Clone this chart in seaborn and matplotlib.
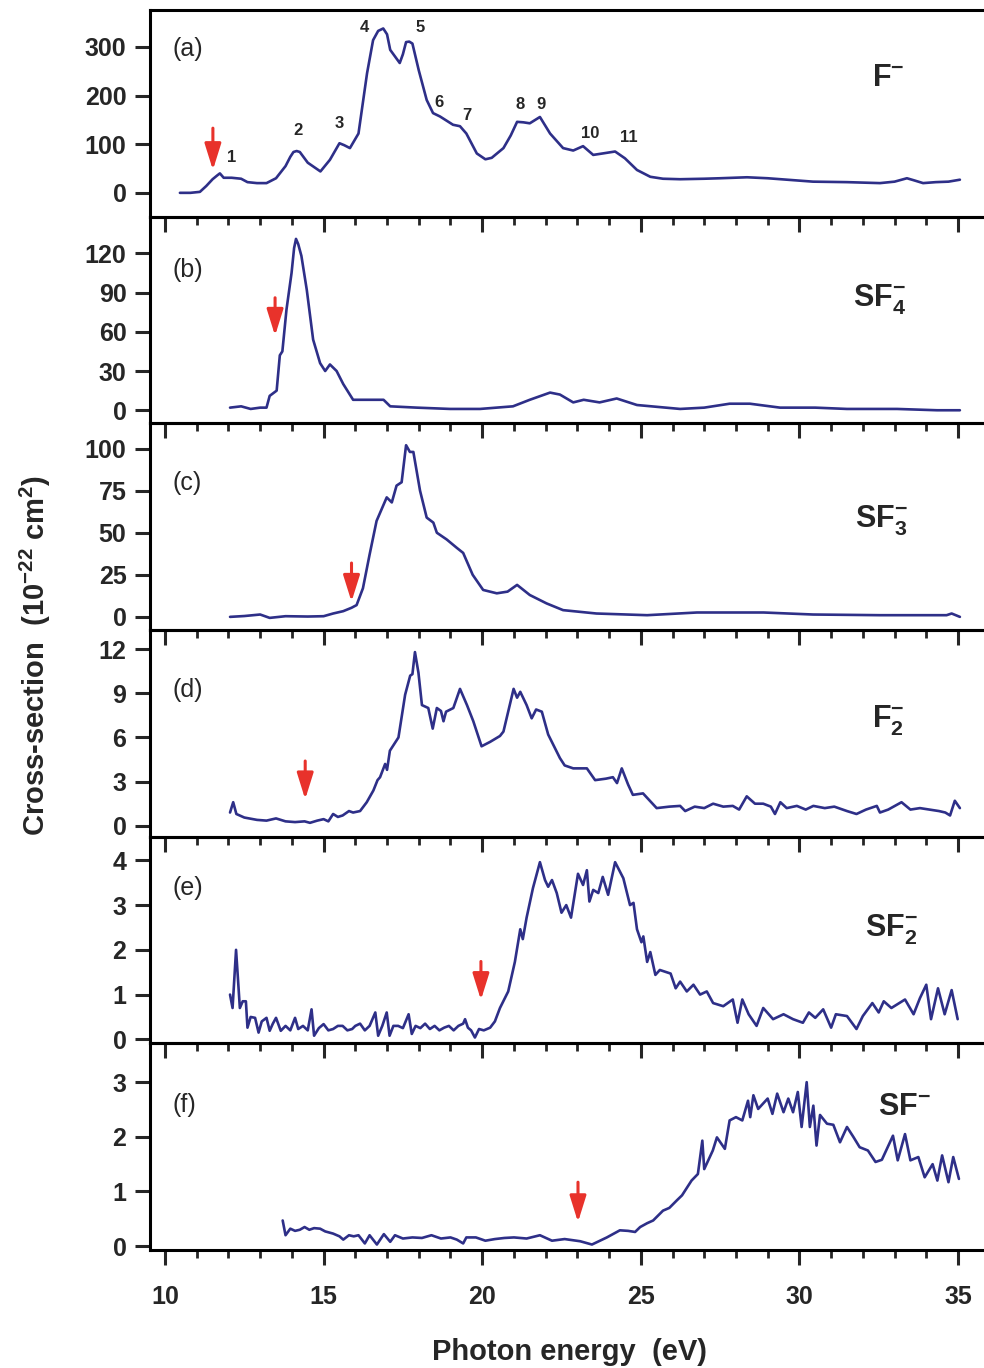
import matplotlib
matplotlib.use("Agg")
import matplotlib.pyplot as plt
from matplotlib.ticker import MultipleLocator, FixedLocator
import seaborn as sns

# ---------------- data ----------------
a_E = [10.47, 10.8, 11.1, 11.3, 11.5, 11.65, 11.73, 11.85, 12.1, 12.4, 12.6, 12.9, 13.2, 13.5, 13.8, 13.95,
       14.05, 14.15, 14.25, 14.5, 14.9, 15.2, 15.5, 15.65, 15.83, 16.1, 16.37, 16.56, 16.72, 16.88, 17.0,
       17.1, 17.4, 17.5, 17.6, 17.7, 17.8, 18.0, 18.25, 18.45, 18.67, 19.08, 19.3, 19.5, 19.83, 20.1, 20.3,
       20.67, 20.9, 21.1, 21.3, 21.5, 21.82, 22.14, 22.55, 22.87, 23.18, 23.5, 23.8, 24.19, 24.5, 24.88,
       25.3, 25.7, 26.24, 27.0, 27.5, 28.35, 29.0, 30.43, 31.5, 32.54, 33.0, 33.39, 33.6, 33.9, 34.3, 34.7,
       35.06]
a_v = [0, 0, 2, 14, 28, 36, 40, 31, 31, 29, 22, 20, 20, 30, 55, 74,
       84, 86, 84, 62, 44, 68, 102, 98, 92, 122, 246, 314, 333, 338, 326,
       294, 267, 285, 310, 311, 307, 252, 191, 164, 157, 140, 137, 122, 81, 69, 72,
       92, 118, 146, 145, 143, 156, 122, 92, 87, 96, 78, 81, 85, 71, 47,
       33, 29, 28, 29, 30, 32, 30, 23, 22, 20, 23, 30, 26, 20, 22, 23,
       27]

b_E = [12.05, 12.4, 12.7, 13.0, 13.2, 13.3, 13.52, 13.62, 13.7, 13.83, 13.99, 14.07, 14.13, 14.2, 14.3,
       14.47, 14.67, 14.89, 15.05, 15.2, 15.41, 15.62, 15.93, 16.15, 16.46, 16.89, 17.1, 17.94, 18.99,
       19.93, 20.97, 21.5, 22.14, 22.45, 22.87, 23.2, 23.7, 24.24, 24.88, 26.24, 27.0, 27.8, 28.44, 29.39,
       30.5, 31.5, 33.08, 34.34, 35.06]
b_v = [2, 3, 1, 2, 2, 11, 15, 42, 45, 77, 105, 124, 131, 127, 118,
       92, 54, 36, 30, 35, 30, 20, 8, 8, 8, 8, 3, 2, 1,
       1, 3, 8, 13.5, 12, 6, 8, 6, 9, 4, 1, 2, 5, 5, 2,
       2, 1, 1, 0, 0]

c_E = [12.05, 12.5, 13.0, 13.3, 13.8, 14.5, 15.0, 15.3, 15.62, 15.88, 16.04, 16.24, 16.45, 16.67, 16.99,
       17.15, 17.3, 17.46, 17.6, 17.72, 17.83, 18.04, 18.25, 18.46, 18.57, 18.88, 19.2, 19.4, 19.7, 20.03,
       20.46, 20.8, 21.1, 21.5, 22.03, 22.55, 23.6, 25.2, 26.77, 28.87, 30.43, 32.54, 34.64, 34.8, 35.06]
c_v = [0, 0.5, 1.4, -0.6, 0.4, 0.2, 0.4, 2, 3.4, 5.4, 7, 17, 37, 57, 71,
       68, 78, 80, 102, 98, 98, 75, 59, 56, 50, 46, 41, 38, 25, 16,
       14, 15, 19, 13, 8, 4, 2, 1, 2.6, 2.6, 1.4, 1, 1, 2, 0]

d_E = [12.05, 12.15, 12.25, 12.5, 12.9, 13.2, 13.5, 13.8, 14.1, 14.4, 14.57, 14.8, 15.0, 15.15, 15.3, 15.45,
       15.6, 15.8, 15.93, 16.15, 16.36, 16.57, 16.7, 16.78, 16.94, 17.0, 17.09, 17.36, 17.57, 17.73, 17.8,
       17.88, 17.99, 18.1, 18.3, 18.44, 18.57, 18.7, 18.78, 18.86, 19.09, 19.3, 19.52, 19.72, 19.98, 20.25,
       20.56, 20.67, 20.99, 21.1, 21.2, 21.4, 21.56, 21.7, 21.88, 22.08, 22.45, 22.6, 22.87, 23.3, 23.56,
       23.9, 24.12, 24.25, 24.4, 24.6, 24.75, 25.07, 25.5, 25.9, 26.24, 26.4, 26.7, 27.0, 27.28, 27.6, 27.9,
       28.1, 28.34, 28.6, 28.86, 29.1, 29.23, 29.4, 29.6, 29.92, 30.2, 30.44, 30.8, 31.1, 31.5, 31.8, 32.1,
       32.44, 32.54, 32.8, 33.22, 33.5, 33.8, 34.1, 34.4, 34.6, 34.75, 34.9, 35.06]
d_v = [0.9, 1.6, 0.8, 0.56, 0.4, 0.35, 0.5, 0.3, 0.25, 0.3, 0.2, 0.35, 0.45, 0.3, 0.8, 0.6,
       0.7, 1.0, 0.9, 1.0, 1.6, 2.4, 3.1, 3.3, 4.2, 3.8, 5.1, 6.0, 8.9, 10.2, 10.3,
       11.8, 10.4, 8.2, 8.0, 6.6, 8.0, 7.8, 7.1, 7.75, 8.0, 9.3, 8.2, 7.1, 5.4, 5.7,
       6.1, 6.4, 9.3, 8.7, 9.1, 8.2, 7.3, 7.9, 7.75, 6.2, 4.6, 4.1, 3.9, 3.9, 3.1,
       3.2, 3.3, 2.9, 3.9, 2.8, 2.1, 2.2, 1.2, 1.3, 1.35, 1.0, 1.3, 1.2, 1.5, 1.3, 1.35,
       1.1, 2.0, 1.5, 1.5, 1.3, 0.8, 1.6, 1.2, 1.35, 1.1, 1.35, 1.2, 1.3, 1.0, 0.8, 1.1,
       1.35, 0.9, 1.1, 1.6, 1.1, 1.2, 1.1, 1.0, 0.9, 0.7, 1.7, 1.2]

e_E = [12.05, 12.13, 12.24, 12.36, 12.45, 12.55, 12.6, 12.7, 12.84, 12.95, 13.05, 13.2, 13.3, 13.4, 13.5,
       13.65, 13.8, 13.95, 14.1, 14.2, 14.35, 14.5, 14.62, 14.7, 14.85, 15.0, 15.15, 15.3, 15.45, 15.6,
       15.75, 15.9, 16.0, 16.15, 16.3, 16.45, 16.63, 16.72, 16.85, 16.99, 17.08, 17.2, 17.35, 17.5, 17.68,
       17.78, 17.9, 18.05, 18.2, 18.35, 18.5, 18.65, 18.8, 18.95, 19.1, 19.25, 19.4, 19.46, 19.55, 19.65,
       19.77, 19.9, 20.05, 20.25, 20.4, 20.56, 20.82, 21.03, 21.2, 21.28, 21.4, 21.6, 21.82, 21.98, 22.08,
       22.2, 22.35, 22.5, 22.65, 22.8, 23.02, 23.18, 23.3, 23.38, 23.5, 23.66, 23.8, 23.97, 24.19, 24.45,
       24.66, 24.77, 24.88, 25.02, 25.08, 25.2, 25.3, 25.46, 25.6, 25.94, 26.1, 26.24, 26.45, 26.66, 26.87,
       27.08, 27.28, 27.6, 27.9, 28.05, 28.2, 28.4, 28.65, 28.86, 29.17, 29.5, 29.8, 30.11, 30.3, 30.5,
       30.75, 31.0, 31.15, 31.5, 31.8, 32.0, 32.3, 32.5, 32.66, 32.9, 33.33, 33.6, 33.8, 34.0, 34.15,
       34.37, 34.58, 34.8, 34.99]
e_v = [1.0, 0.7, 2.0, 0.7, 0.85, 0.85, 0.26, 0.5, 0.48, 0.15, 0.4, 0.48, 0.19, 0.35, 0.48,
       0.19, 0.3, 0.2, 0.48, 0.23, 0.3, 0.2, 0.67, 0.08, 0.25, 0.34, 0.2, 0.23, 0.3, 0.3,
       0.2, 0.23, 0.3, 0.35, 0.2, 0.3, 0.6, 0.08, 0.3, 0.6, 0.08, 0.3, 0.3, 0.25, 0.56,
       0.12, 0.3, 0.25, 0.35, 0.23, 0.3, 0.2, 0.26, 0.3, 0.2, 0.3, 0.35, 0.45, 0.26, 0.2,
       0.04, 0.23, 0.2, 0.26, 0.4, 0.7, 1.07, 1.73, 2.46, 2.24, 2.72, 3.38, 3.96, 3.56, 3.41,
       3.56, 3.27, 2.83, 3.0, 2.72, 3.7, 3.45, 3.78, 3.08, 3.34, 3.27, 3.63, 3.23, 3.96, 3.6,
       3.0, 3.05, 2.46, 2.17, 2.3, 1.73, 1.95, 1.44, 1.55, 1.47, 1.14, 1.29, 1.07, 1.22, 1.0,
       1.07, 0.81, 0.74, 0.89, 0.37, 0.89, 0.56, 0.3, 0.7, 0.45, 0.56, 0.45, 0.37, 0.6, 0.48,
       0.67, 0.26, 0.56, 0.52, 0.23, 0.52, 0.81, 0.6, 0.85, 0.7, 0.89, 0.56, 0.92, 1.22, 0.45,
       1.14, 0.56, 1.1, 0.45]

f_E = [13.71, 13.8, 13.95, 14.1, 14.25, 14.4, 14.55, 14.7, 14.89, 15.05, 15.3, 15.5, 15.62, 15.8, 15.95,
       16.1, 16.3, 16.45, 16.68, 16.9, 17.1, 17.25, 17.5, 17.8, 18.1, 18.4, 18.7, 19.0, 19.2, 19.4, 19.5,
       19.8, 20.1, 20.4, 20.7, 21.0, 21.4, 21.82, 22.2, 22.6, 23.09, 23.46, 23.93, 24.34, 24.6, 24.82,
       24.98, 25.2, 25.39, 25.7, 25.9, 26.14, 26.3, 26.6, 26.8, 26.94, 27.0, 27.27, 27.4, 27.65, 27.8,
       28.0, 28.2, 28.38, 28.45, 28.55, 28.7, 29.0, 29.15, 29.3, 29.5, 29.65, 29.8, 29.95, 30.07, 30.23,
       30.33, 30.44, 30.54, 30.65, 30.87, 31.07, 31.28, 31.5, 31.7, 31.9, 32.16, 32.4, 32.6, 32.95, 33.1,
       33.33, 33.5, 33.75, 33.95, 34.2, 34.35, 34.5, 34.7, 34.85, 35.03]
f_v = [0.47, 0.2, 0.32, 0.28, 0.3, 0.35, 0.3, 0.33, 0.32, 0.27, 0.23, 0.18, 0.12, 0.2, 0.18,
       0.2, 0.05, 0.2, 0.03, 0.22, 0.08, 0.2, 0.14, 0.16, 0.15, 0.2, 0.14, 0.16, 0.12, 0.05, 0.16,
       0.16, 0.1, 0.13, 0.15, 0.16, 0.14, 0.2, 0.1, 0.13, 0.09, 0.03, 0.16, 0.29, 0.28, 0.26,
       0.35, 0.42, 0.47, 0.65, 0.7, 0.84, 0.93, 1.2, 1.32, 1.93, 1.41, 1.75, 1.99, 1.78, 2.3,
       2.36, 2.3, 2.66, 2.36, 2.76, 2.51, 2.7, 2.42, 2.79, 2.45, 2.7, 2.45, 2.82, 2.18, 3.0,
       2.18, 2.57, 1.84, 2.4, 2.24, 2.22, 1.9, 2.18, 2.0, 1.81, 1.75, 1.54, 1.58, 2.02, 1.57,
       2.05, 1.57, 1.63, 1.26, 1.5, 1.2, 1.66, 1.17, 1.63, 1.23]

panel_letters = ["(a)", "(b)", "(c)", "(d)", "(e)", "(f)"]
species = [r"$\mathrm{F}^{-}$", r"$\mathrm{SF}_{4}^{-}$", r"$\mathrm{SF}_{3}^{-}$",
           r"$\mathrm{F}_{2}^{-}$", r"$\mathrm{SF}_{2}^{-}$", r"$\mathrm{SF}^{-}$"]
y_ticks = [[0, 100, 200, 300], [0, 30, 60, 90, 120], [0, 25, 50, 75, 100],
           [0, 3, 6, 9, 12], [0, 1, 2, 3, 4], [0, 1, 2, 3]]
y_lims = [(-49, 376), (-10, 148), (-7.8, 115), (-0.74, 13.3), (-0.09, 4.53), (-0.07, 3.71)]
# threshold arrows: (energy, arrow tail value, arrow tip value)
arrow_E = [11.51, 13.47, 15.88, 14.42, 19.96, 23.02]
arrow_top = [133, 86, 32, 4.4, 1.74, 1.17]
arrow_tip = [47, 57, 9, 1.8, 0.88, 0.44]
# peak numbers of panel (a)
peak_labels = ["1", "2", "3", "4", "5", "6", "7", "8", "9", "10", "11"]
peak_E = [12.1, 14.2, 15.49, 16.3, 18.04, 18.64, 19.52, 21.19, 21.85, 23.4, 24.63]
peak_v = [72, 129, 142, 341, 339, 185, 160, 181, 181, 123, 113]

series = [(a_E, a_v), (b_E, b_v), (c_E, c_v), (d_E, d_v), (e_E, e_v), (f_E, f_v)]

# ---------------- style ----------------
sns.set_theme(style="ticks")
plt.rcParams["font.family"] = ["Liberation Sans", "DejaVu Sans"]
plt.rcParams["mathtext.fontset"] = "custom"
plt.rcParams["mathtext.rm"] = "Liberation Sans:bold"
plt.rcParams["mathtext.it"] = "Liberation Sans:bold"
plt.rcParams["mathtext.bf"] = "Liberation Sans:bold"
plt.rcParams["axes.linewidth"] = 2.2

line_color = "#2e2f88"
arrow_color = "#e8322b"

W, H = 984, 1368
fig = plt.figure(figsize=(W / 100, H / 100), dpi=100)
fig.patch.set_facecolor("white")

left = 150 / W
top_px, bot_px = 10, 1250
ph = (bot_px - top_px) / 6

species_pos = [(32.79, 0.67), (32.54, 0.60), (32.6, 0.53), (32.8, 0.56), (32.9, 0.55), (33.3, 0.69)]
letter_y = [0.81, 0.744, 0.71, 0.71, 0.75, 0.70]

axes = []
for i in range(6):
    y0 = 1 - (top_px + ph * (i + 1)) / H
    ax = fig.add_axes([left, y0, 1 - left, ph / H])
    ax.set_facecolor("none")
    axes.append(ax)
    E, v = series[i]
    sns.lineplot(x=E, y=v, ax=ax, color=line_color, linewidth=1.9,
                 estimator=None, sort=False, legend=False)
    ax.set_xlim(9.527, 35.82)
    ax.set_ylim(*y_lims[i])
    ax.yaxis.set_major_locator(FixedLocator(y_ticks[i]))
    ax.xaxis.set_major_locator(MultipleLocator(5))
    ax.xaxis.set_minor_locator(MultipleLocator(1))
    ax.spines["right"].set_visible(False)
    for s in ["left", "top", "bottom"]:
        ax.spines[s].set_linewidth(2.2)
        ax.spines[s].set_color("black")
    ax.tick_params(axis="y", which="major", direction="out", length=11, width=2.2,
                   labelsize=18, pad=6, left=True, right=False)
    ax.tick_params(axis="x", which="major", direction="out", length=11, width=2.2,
                   labelsize=18, pad=14, top=False, bottom=True)
    ax.tick_params(axis="x", which="minor", direction="out", length=6, width=2.0,
                   top=False, bottom=True)
    for lab in ax.get_yticklabels():
        lab.set_fontweight("bold")
    if i < 5:
        ax.tick_params(axis="x", labelbottom=False)
    else:
        for lab in ax.get_xticklabels():
            lab.set_fontweight("bold")
    ax.set_xlabel("")
    ax.set_ylabel("")
    ax.text(10.25, letter_y[i], panel_letters[i], transform=ax.get_xaxis_transform(),
            fontsize=18, va="center", ha="left")
    sx, sy = species_pos[i]
    ax.text(sx, sy, species[i], transform=ax.get_xaxis_transform(), fontsize=22,
            ha="center", va="center")
    ax.annotate("", xy=(arrow_E[i], arrow_tip[i]), xytext=(arrow_E[i], arrow_top[i]),
                arrowprops=dict(arrowstyle="-|>,head_length=0.8,head_width=0.25",
                                color=arrow_color, lw=2.2, mutation_scale=20,
                                shrinkA=0, shrinkB=0))

for lab, e, v in zip(peak_labels, peak_E, peak_v):
    axes[0].text(e, v, lab, fontsize=12, fontweight="bold", ha="center", va="center")

fig.text(0.036, 0.521, r"Cross-section  (10$^{-22}$ cm$^{2}$)", rotation=90,
         fontsize=21, fontweight="bold", ha="center", va="center")
fig.text(0.579, 0.0117, "Photon energy  (eV)", fontsize=21, fontweight="bold",
         ha="center", va="center")

fig.savefig("out.png", dpi=100, facecolor="white")
